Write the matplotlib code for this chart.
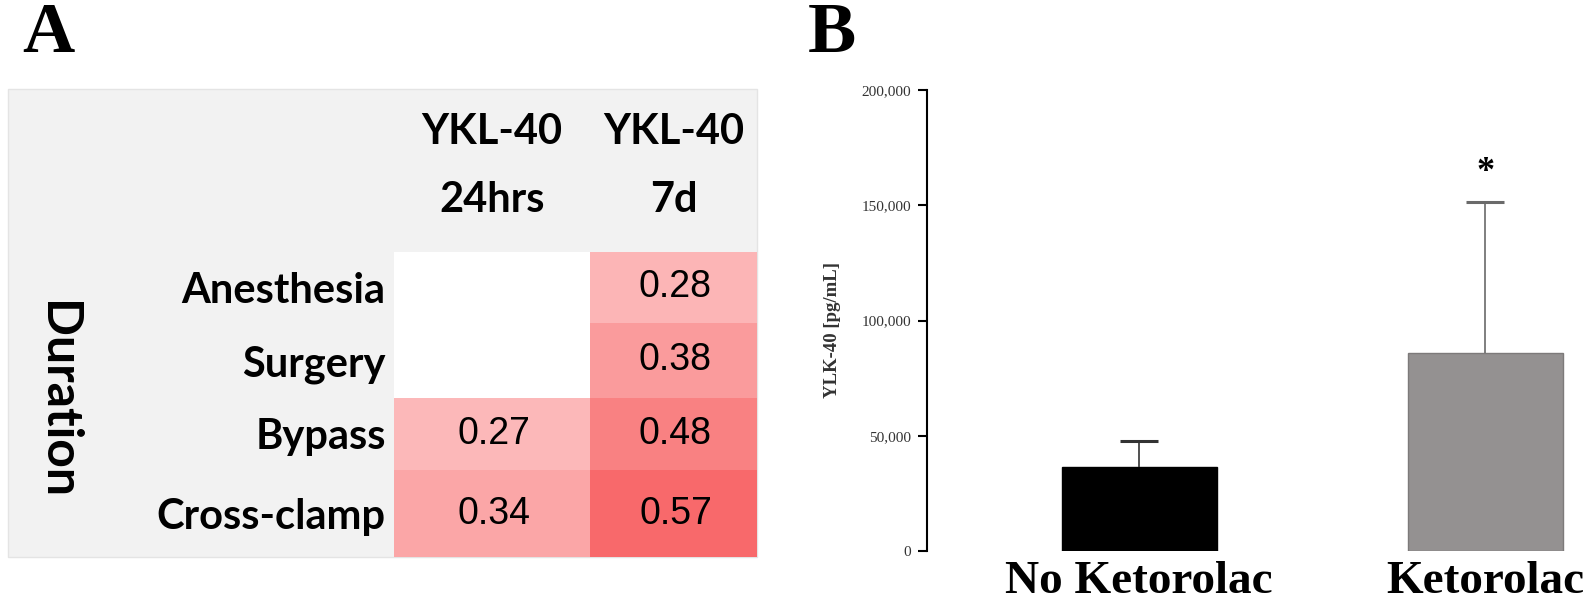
import numpy as np
import matplotlib
matplotlib.use('Agg')
import matplotlib.pyplot as plt
from matplotlib.colors import LinearSegmentedColormap, Normalize
from matplotlib.patches import Rectangle
from matplotlib.ticker import StrMethodFormatter

# panel A: correlations with duration
rows = ['Anesthesia', 'Surgery', 'Bypass', 'Cross-clamp']
col_top = ['YKL-40', 'YKL-40']
col_bottom = ['24hrs', '7d']
corr_24h = [np.nan, np.nan, 0.27, 0.34]
corr_7d = [0.28, 0.38, 0.48, 0.57]

# panel B: YKL-40 by group
groups = ['No Ketorolac', 'Ketorolac']
means = [36400, 85900]
errs = [11300, 65500]
bar_colors = ['#000000', '#949191']

W, H = 1594, 606
fig = plt.figure(figsize=(W / 100, H / 100), dpi=100)

label_font = dict(family=['Lato', 'DejaVu Sans'], weight='bold')
num_font = dict(family=['Liberation Sans Narrow', 'Liberation Sans'])
serif = ['Liberation Serif', 'DejaVu Serif']

# ---- panel A ----
fig.add_artist(Rectangle((8 / W, 1 - 557 / H), (757 - 8) / W, (557 - 89) / H,
                         transform=fig.transFigure, facecolor='#f2f2f2',
                         edgecolor='#e4e4e4', lw=1, zorder=-1))

# cell sizes in pixels (table layout is not uniform)
col_w = [196, 167]
row_h = [71, 75, 72, 87]
xe = np.concatenate([[0], np.cumsum(col_w)])
ye = np.concatenate([[0], np.cumsum(row_h)])
xc = (xe[:-1] + xe[1:]) / 2
yc = (ye[:-1] + ye[1:]) / 2

axa = fig.add_axes([394 / W, 1 - 557 / H, (757 - 394) / W, (557 - 252) / H])
vals = np.column_stack([corr_24h, corr_7d])
cmap = LinearSegmentedColormap.from_list('wr', ['#ffffff', '#f8696b'])
cmap.set_bad('white')
norm = Normalize(0, np.nanmax(vals))
axa.pcolormesh(xe, ye, np.ma.masked_invalid(vals), cmap=cmap, norm=norm)
axa.set_xlim(0, xe[-1])
axa.set_ylim(ye[-1], 0)
for s in axa.spines.values():
    s.set_visible(False)
axa.set_xticks([])
axa.set_yticks(yc, rows, fontsize=30, **label_font)
axa.tick_params(axis='y', length=0, pad=6)

for i in range(len(rows)):
    for j in range(2):
        v = vals[i, j]
        if not np.isnan(v):
            axa.text(xc[j] + 2, yc[i], f'{v:.2f}', ha='center', va='center',
                     fontsize=27, **num_font)

tr = axa.get_xaxis_transform()
for j in range(2):
    axa.text(xc[j], 1.393, col_top[j], transform=tr, ha='center', va='center',
             fontsize=30, **label_font)
    axa.text(xc[j], 1.17, col_bottom[j], transform=tr, ha='center', va='center',
             fontsize=30, **label_font)

fig.text(57 / W, 1 - 400 / H, 'Duration', rotation=270, ha='center', va='center',
         fontsize=36, **label_font)

fig.text(22 / W, 1 - 52 / H, 'A', family=serif, weight='bold', fontsize=52,
         va='baseline')
fig.text(808 / W, 1 - 52 / H, 'B', family=serif, weight='bold', fontsize=52,
         va='baseline')

# ---- panel B ----
axb = fig.add_axes([927 / W, 1 - 551 / H, (1590 - 927) / W, (551 - 90) / H])
x = np.arange(len(groups))
axb.bar(x, means, width=0.448, color=bar_colors, edgecolor=['#000000', '#7d7a7a'], lw=1)
for i, ec in enumerate(['#333333', '#6a6a6a']):
    eb = axb.errorbar(x[i], means[i], yerr=[[0], [errs[i]]], fmt='none', ecolor=ec,
                      elinewidth=1.2, capsize=14, capthick=2.2)
    # only keep the upper cap
    for cap in eb[1]:
        if np.allclose(cap.get_ydata(), means[i]):
            cap.set_visible(False)
axb.text(x[1], means[1] + errs[1] + 9000, '*', ha='center', va='baseline',
         fontsize=26, family=serif, weight='bold')

axb.set_xlim(-0.613, 1.303)
axb.set_ylim(0, 200000)
axb.set_yticks([0, 50000, 100000, 150000, 200000])
axb.yaxis.set_major_formatter(StrMethodFormatter('{x:,.0f}'))
for lab in axb.get_yticklabels():
    lab.set_family(serif)
    lab.set_fontsize(11)
    lab.set_color('#333333')
axb.tick_params(axis='y', length=6.5, width=1.5, pad=5)
axb.set_xticks(x, groups, family=serif, weight='bold', fontsize=34)
axb.tick_params(axis='x', length=0, pad=7)
axb.spines['left'].set_linewidth(1.5)
for s in ['top', 'right', 'bottom']:
    axb.spines[s].set_visible(False)
axb.text((832 - 927) / 663, (551 - 330) / 461, 'YLK-40 [pg/mL]', rotation=90,
         ha='center', va='center', transform=axb.transAxes, family=serif,
         weight='bold', fontsize=13.5, color='#333333')

fig.savefig('out.png', dpi=100)
